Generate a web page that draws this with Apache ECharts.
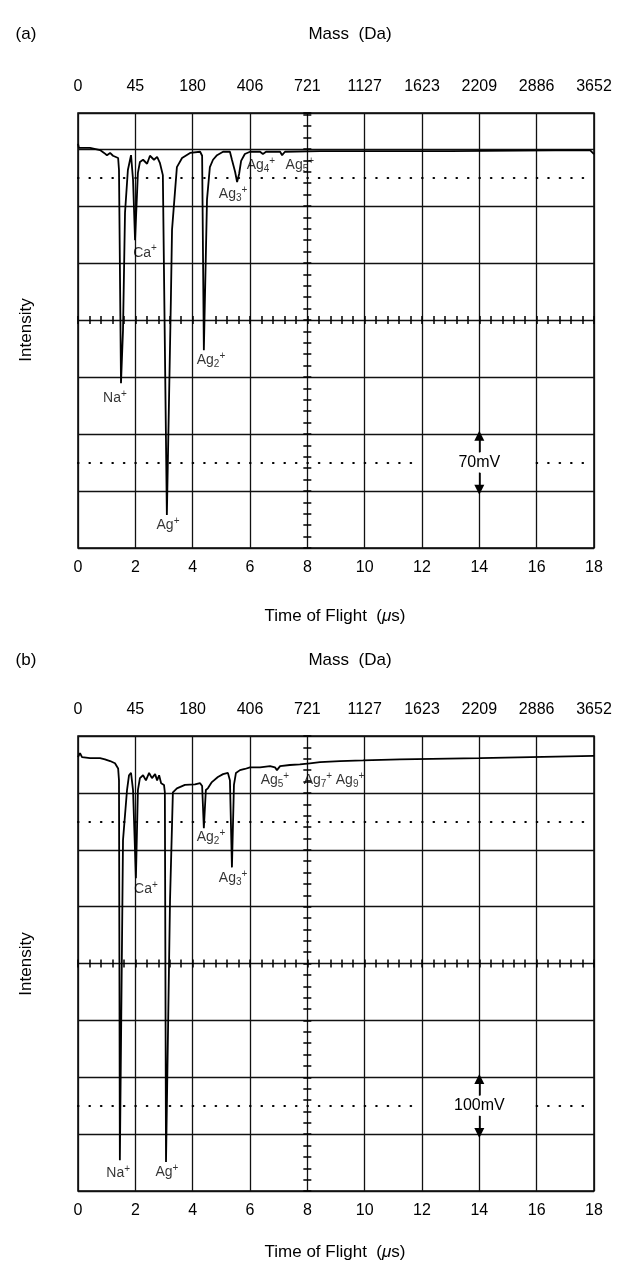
<!DOCTYPE html>
<html><head><meta charset="utf-8">
<script src="https://cdn.jsdelivr.net/npm/echarts@6/dist/echarts.min.js"></script>
<style>html,body{margin:0;padding:0;background:#fff}#c{width:625px;height:1270px}</style>
</head><body><div id="c"></div>
<script>
// ---- data ----
const massLabels = ['0','45','180','406','721','1127','1623','2209','2886','3652'];

// panel (a): time of flight (us) and intensity (screen divisions from bottom)
const traceA_t = [0,0.03,0.42,0.77,0.91,1.01,1.12,1.22,1.40,1.43,1.50,1.57,1.64,1.74,1.85,1.92,1.99,2.09,2.16,2.27,2.41,2.51,2.65,2.76,2.86,2.96,3.10,3.24,3.28,3.38,3.45,3.63,3.91,4.26,4.33,4.39,4.50,4.60,4.71,4.85,5.06,5.30,5.37,5.48,5.55,5.62,5.69,5.82,6.00,6.35,6.45,6.56,7.05,7.12,7.22,8.44,12.98,17.86,18.0];
const traceA_v = [7.09,7.02,7.02,6.98,6.93,6.89,6.93,6.88,6.84,6.63,2.89,3.82,5.88,6.63,6.89,6.46,5.40,6.58,6.77,6.81,6.74,6.88,6.81,6.86,6.75,6.54,0.58,4.35,5.58,6.23,6.68,6.84,6.93,6.95,6.88,3.47,6.11,6.68,6.81,6.89,6.95,6.95,6.81,6.60,6.42,6.56,6.79,6.91,6.95,6.95,6.91,6.95,6.95,6.89,6.95,6.96,6.96,6.98,6.91];

// panel (b)
const traceB_t = [0,0.07,0.14,0.42,0.77,0.94,1.12,1.29,1.40,1.43,1.46,1.57,1.71,1.78,1.85,1.92,2.02,2.09,2.16,2.27,2.37,2.48,2.58,2.69,2.76,2.83,2.90,3.00,3.03,3.07,3.21,3.31,3.45,3.73,4.08,4.26,4.33,4.39,4.46,4.53,4.67,4.88,5.06,5.23,5.30,5.37,5.44,5.51,5.65,5.82,6.00,6.35,6.70,6.87,6.94,7.05,7.39,7.74,8.09,8.44,9.14,9.94,11.23,14.02,18.0];
const traceB_v = [7.63,7.70,7.63,7.61,7.61,7.59,7.56,7.52,7.43,7.22,0.54,6.17,7.05,7.31,7.35,7.05,5.50,7.05,7.26,7.31,7.22,7.35,7.26,7.33,7.22,7.31,7.17,7.14,7.01,0.51,5.11,7.01,7.08,7.14,7.15,7.17,7.12,6.38,7.05,7.08,7.19,7.28,7.33,7.35,7.22,5.69,7.14,7.35,7.40,7.42,7.45,7.45,7.47,7.45,7.40,7.47,7.49,7.50,7.52,7.54,7.56,7.57,7.59,7.61,7.65];

// peak annotations: element, subscript, anchor time, anchor intensity
const peakElemA = ['Na','Ca','Ag','Ag','Ag','Ag','Ag'];
const peakSubA  = ['','','','2','3','4','5'];
const peakTA    = [1.29,2.34,3.14,4.64,5.41,6.38,7.74];
const peakVA    = [2.62,5.18,0.40,3.29,6.21,6.72,6.72];

const peakElemB = ['Na','Ca','Ag','Ag','Ag','Ag','Ag','Ag'];
const peakSubB  = ['','','','2','3','5','7','9'];
const peakTB    = [1.40,2.37,3.10,4.64,5.41,6.87,8.37,9.49];
const peakVB    = [0.32,5.31,0.33,6.22,5.50,7.22,7.22,7.22];

const scaleA = '70mV', scaleB = '100mV';

// ---- layout ----
const FONT = 'Liberation Sans, Arial, sans-serif';
const G = [
  {left:78, top:113, width:516, height:435, ymax:7.63},
  {left:78, top:736, width:516, height:455, ymax:8}
];

const zip = (a,b) => a.map((v,i)=>[v,b[i]]);
const richLab = {
  m:{fontSize:14, fontFamily:FONT, color:'#000', lineHeight:18},
  s:{fontSize:10, fontFamily:FONT, color:'#000', lineHeight:10, verticalAlign:'bottom'},
  p:{fontSize:10, fontFamily:FONT, color:'#000', lineHeight:10, verticalAlign:'top'}
};
function peakData(el, sub, t, v){
  return el.map((e,i)=>({value:[t[i],v[i]], label:{formatter:'{m|'+e+'}'+(sub[i]?'{s|'+sub[i]+'}':'')+'{p|+}'}}));
}

const xAxes = [], yAxes = [];
G.forEach((g,gi)=>{
  const base = {gridIndex:gi, type:'value', min:0, max:18, interval:2};
  // bottom time axis
  xAxes.push(Object.assign({}, base, {
    position:'bottom',
    axisLine:{show:false, onZero:false}, axisTick:{show:false},
    axisLabel:{fontSize:16, fontFamily:FONT, color:'#000', margin:12},
    splitLine:{show:true, lineStyle:{color:'#111', width:1.3}}
  }));
  // top mass axis
  xAxes.push(Object.assign({}, base, {
    position:'top',
    axisLine:{show:false, onZero:false}, axisTick:{show:false}, splitLine:{show:false},
    axisLabel:{fontSize:16, fontFamily:FONT, color:'#000', margin:18,
      formatter:(v)=>massLabels[Math.round(v/2)]}
  }));
  // center horizontal tick marks (both sides)
  const off = -g.height*4/g.ymax;
  [true,false].forEach(ins=>{
    xAxes.push(Object.assign({}, base, {
      position:'bottom', offset:off,
      axisLine:{show:false, onZero:false}, axisLabel:{show:false}, splitLine:{show:false},
      axisTick:{show:true, inside:ins, length:4, lineStyle:{color:'#000', width:1.5}},
      minorTick:{show:true, splitNumber:5, length:4, lineStyle:{color:'#000', width:1.5}}
    }));
  });
  const ybase = {gridIndex:gi, type:'value', min:0, max:g.ymax, interval:1};
  yAxes.push(Object.assign({}, ybase, {
    position:'left',
    axisLine:{show:false, onZero:false}, axisTick:{show:false}, axisLabel:{show:false},
    splitLine:{show:true, lineStyle:{color:'#111', width:1.3}}
  }));
  const xoff = -g.width*8/18;
  [true,false].forEach(ins=>{
    yAxes.push(Object.assign({}, ybase, {
      position:'left', offset:xoff,
      axisLine:{show:false, onZero:false}, axisLabel:{show:false}, splitLine:{show:false},
      axisTick:{show:true, inside:ins, length:4, lineStyle:{color:'#000', width:1.5}},
      minorTick:{show:true, splitNumber:5, length:4, lineStyle:{color:'#000', width:1.5}}
    }));
  });
});

function decor(scaleText){
  const dot = {color:'#000', width:2.2, type:[0.5,10.97], cap:'round'};
  const solid = {color:'#000', width:1.5, type:'solid', cap:'butt'};
  return {
    markLine:{
      silent:true, symbol:['none','none'], label:{show:false}, lineStyle:dot,
      data:[
        [{coord:[0,6.5]},{coord:[18,6.5]}],
        [{coord:[0,1.5]},{coord:[12,1.5]}],
        [{coord:[16,1.5]},{coord:[18,1.5]}],
        [{coord:[14,1.68], symbol:'none', lineStyle:solid},{coord:[14,1.97], symbol:'triangle', symbolSize:[10,10]}],
        [{coord:[14,1.32], symbol:'none', lineStyle:solid},{coord:[14,1.02], symbol:'triangle', symbolSize:[10,10]}]
      ]
    },
    markPoint:{
      silent:true, symbol:'circle', symbolSize:0,
      label:{show:true, position:'inside', formatter:scaleText, fontSize:16, fontFamily:FONT, color:'#000',
        backgroundColor:'#fff', padding:[2,3]},
      data:[{coord:[14,1.5]}]
    }
  };
}

const series = [
  Object.assign({type:'line', xAxisIndex:0, yAxisIndex:0, data:zip(traceA_t,traceA_v), symbol:'none',
    lineStyle:{color:'#000', width:1.8}, z:5}, decor(scaleA)),
  Object.assign({type:'line', xAxisIndex:4, yAxisIndex:3, data:zip(traceB_t,traceB_v), symbol:'none',
    lineStyle:{color:'#000', width:1.8}, z:5}, decor(scaleB)),
  {type:'scatter', xAxisIndex:0, yAxisIndex:0, symbolSize:0, data:peakData(peakElemA,peakSubA,peakTA,peakVA),
    label:{show:true, position:'inside', rich:richLab}, z:6},
  {type:'scatter', xAxisIndex:4, yAxisIndex:3, symbolSize:0, data:peakData(peakElemB,peakSubB,peakTB,peakVB),
    label:{show:true, position:'inside', rich:richLab}, z:6}
];

const txt = (x,y,text,extra)=>Object.assign({type:'text', x, y,
  style:Object.assign({text, fontSize:17, fontFamily:FONT, fill:'#000', align:'center', verticalAlign:'middle'}, extra||{})});
const tofRich = {
  n:{fontSize:17, fontFamily:FONT, fill:'#000'},
  i:{fontSize:17, fontFamily:FONT, fontStyle:'italic', fill:'#000'}
};
const graphic = [
  txt(26,34,'(a)'), txt(350,34,'Mass  (Da)'),
  txt(335,616,'{n|Time of Flight  (}{i|μ}{n|s)}',{rich:tofRich}),
  txt(26,660,'(b)'), txt(350,660,'Mass  (Da)'),
  txt(335,1252,'{n|Time of Flight  (}{i|μ}{n|s)}',{rich:tofRich}),
  Object.assign(txt(0,0,'Intensity'),{x:26,y:330,rotation:Math.PI/2}),
  Object.assign(txt(0,0,'Intensity'),{x:26,y:964,rotation:Math.PI/2})
];

const chart = echarts.init(document.getElementById('c'), null, {renderer:'canvas'});
chart.setOption({
  animation:false,
  backgroundColor:'#fff',
  grid:G.map(g=>({left:g.left, top:g.top, width:g.width, height:g.height, show:true, borderColor:'#000', borderWidth:1.5, backgroundColor:'transparent'})),
  xAxis:xAxes, yAxis:yAxes, series, graphic
});
</script></body></html>
